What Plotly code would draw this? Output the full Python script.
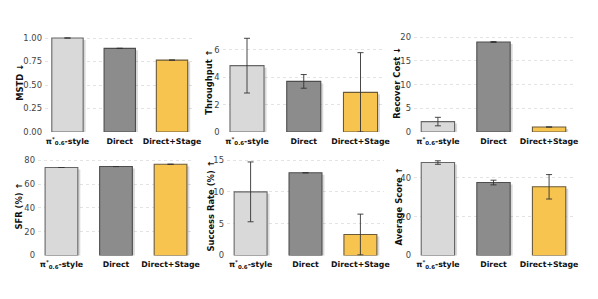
"""Bar panels comparing pi_0.6-style, Direct and Direct+Stage."""

import plotly.graph_objects as go

# the page body keeps its default 8px margin, so the figure is drawn 8px in
OFF = 8
W, H = 598 - OFF, 299 - OFF

methods = ["<b>π<sup>*</sup><sub>0.6</sub>-style</b>", "<b>Direct</b>", "<b>Direct+Stage</b>"]

# None = no error bar drawn
mstd = [1.00, 0.89, 0.765]
mstd_err = [None, None, None]

throughput = [4.85, 3.7, 2.9]
throughput_err = [2.0, 0.5, 2.9]

recover_cost = [2.2, 19.0, 1.05]
recover_cost_err = [0.9, 0.1, None]

sfr = [73.9, 74.7, 76.6]
sfr_err = [None, None, None]

success_rate = [10.0, 13.0, 3.3]
success_rate_err = [4.7, None, 3.2]

avg_score = [47.9, 37.6, 35.4]
avg_score_err = [0.9, 1.2, 6.3]

titles = ["MSTD ↓", "Throughput ↑", "Recover Cost ↓", "SFR (%) ↑", "Success Rate (%) ↑", "Average Score ↑"]
tickvals = [[0, 0.25, 0.5, 0.75, 1.0], [0, 2, 4, 6], [0, 5, 10, 15, 20],
            [0, 20, 40, 60, 80], [0, 5, 10, 15], [0, 20, 40]]
ticktext = [["0.00", "0.25", "0.50", "0.75", "1.00"], None, None, None, None, None]
yranges = [1.048, 7.2, 20.8, 82.3, 15.4, 50.5]

colors = ["#d9d9d9", "#8c8c8c", "#f7c44f"]
edges = ["#666666", "#4d4d4d", "#6b5a3a"]

# pixel boxes (in the window) of each plot area: (left, right, top, bottom)
boxes = [(45, 194.5, 33.5, 132), (222.6, 384.9, 33.5, 132), (414, 573, 33.5, 132),
         (38, 194, 157.5, 255.5), (227, 384, 157.5, 255.5), (414, 573, 157.5, 255.5)]
title_x = [20, 209, 397, 18, 210, 398]

panels = [(mstd, mstd_err), (throughput, throughput_err), (recover_cost, recover_cost_err),
          (sfr, sfr_err), (success_rate, success_rate_err), (avg_score, avg_score_err)]


def fx(px):
    return (px - OFF) / W


def fy(py):
    return 1 - (py - OFF) / H


fig = go.Figure()
annotations = []
for i, (vals, errs) in enumerate(panels):
    n = "" if i == 0 else str(i + 1)
    xa, ya = "x" + n, "y" + n
    left, right, top, bottom = boxes[i]
    rng = yranges[i]
    px_y = rng / (bottom - top)
    px_x = 2.86 / (right - left)
    # soft drop shadow behind each bar
    fig.add_trace(go.Bar(
        x=[0, 1, 2], y=vals, base=[-2 * px_y] * 3, width=0.6, offset=-0.3 + 2.5 * px_x,
        marker=dict(color="rgba(0,0,0,0.15)", line=dict(width=0)),
        xaxis=xa, yaxis=ya, showlegend=False, hoverinfo="skip",
    ))
    fig.add_trace(go.Bar(
        x=[0, 1, 2], y=vals, width=0.6,
        marker=dict(color=colors, line=dict(color=edges, width=1.1)),
        error_y=dict(type="data", array=errs, visible=True, color="#333333",
                     thickness=0.9, width=3),
        xaxis=xa, yaxis=ya, showlegend=False,
    ))
    layout_x = dict(
        domain=[fx(left), fx(right)], range=[-0.43, 2.43], anchor=ya,
        tickvals=[0, 1, 2], ticktext=methods, showgrid=False, zeroline=False,
        showline=False, ticks="", tickfont=dict(size=7.8, color="#111111"),
        tickangle=0, ticklabelstandoff=3, automargin=False, fixedrange=True,
    )
    layout_y = dict(
        domain=[fy(bottom), fy(top)], range=[0, rng], anchor=xa,
        tickvals=tickvals[i], showgrid=True, gridcolor="#e3e3e3", griddash="dot",
        gridwidth=0.8, zeroline=False, showline=False, ticks="",
        tickfont=dict(size=8.4, color="#444444"), ticklabelstandoff=2,
        automargin=False,
    )
    if ticktext[i]:
        layout_y["ticktext"] = ticktext[i]
    fig.update_layout(**{"xaxis" + n: layout_x, "yaxis" + n: layout_y})
    annotations.append(dict(
        text="<b>" + titles[i] + "</b>", x=fx(title_x[i]), y=fy((top + bottom) / 2),
        xref="paper", yref="paper", textangle=-90, showarrow=False,
        font=dict(size=8.4, color="#111111"), xanchor="center", yanchor="middle",
    ))

fig.update_layout(
    width=W, height=H, barmode="overlay",
    margin=dict(l=0, r=0, t=0, b=0),
    paper_bgcolor="white", plot_bgcolor="white",
    font=dict(family="DejaVu Sans"),
    annotations=annotations,
)

fig.write_html("out.html")
